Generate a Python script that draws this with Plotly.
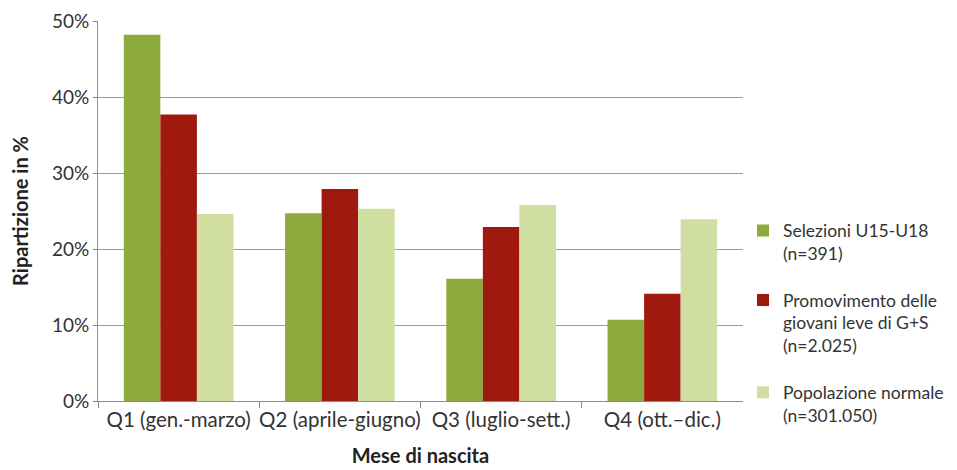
import plotly.graph_objects as go

categories = ["Q1 (gen.-marzo)", "Q2 (aprile-giugno)", "Q3 (luglio-sett.)", "Q4 (ott.\u2013dic.)"]
series_names = [
    "Selezioni U15-U18<br>(n=391)",
    "Promovimento delle<br>giovani leve di G+S<br>(n=2.025)",
    "Popolazione normale<br>(n=301.050)",
]
selezioni = [48.2, 24.7, 16.1, 10.7]
promovimento = [37.7, 27.9, 22.9, 14.1]
popolazione = [24.6, 25.3, 25.8, 23.9]
colors = ["#8DAA3E", "#A0190F", "#D1DEA2"]
y_ticks = [0, 10, 20, 30, 40, 50]

font_family = "Lato, Open Sans, sans-serif"

fig = go.Figure()
for i, (name, vals, col) in enumerate(zip(series_names, [selezioni, promovimento, popolazione], colors)):
    fig.add_trace(go.Bar(x=categories, y=vals, name=name, legendgroup=f"g{i}",
                         marker=dict(color=col, line=dict(width=0))))

fig.update_layout(
    width=949, height=462,
    margin=dict(l=90, r=214, t=13, b=69, autoexpand=False),
    paper_bgcolor="white", plot_bgcolor="white",
    barmode="group", bargap=0.32, bargroupgap=0,
    font=dict(family=font_family, size=17, color="#333333"),
    legend=dict(x=1.0, y=0.496, xanchor="left", yanchor="top",
                font=dict(size=17.5, color="#333333"), tracegroupgap=21,
                valign="top", itemwidth=30),
    showlegend=True,
)
fig.update_xaxes(
    automargin=False, tickangle=0,
    showline=True, linecolor="#8c8c8c", linewidth=1,
    ticks="outside", tickson="boundaries", ticklen=6, tickcolor="#8c8c8c",
    tickfont=dict(size=20.5, color="#333333"),
    title=dict(text="<b>Mese di nascita</b>", font=dict(size=20, color="#222222"), standoff=19),
)
fig.update_yaxes(
    automargin=False,
    range=[0, 50], tickvals=y_ticks, ticktext=[f"{v}%" for v in y_ticks],
    showgrid=True, gridcolor="#9a9a9a", gridwidth=1,
    showline=True, linecolor="#8c8c8c", linewidth=1,
    ticks="outside", ticklen=4, tickcolor="#8c8c8c",
    tickfont=dict(size=19, color="#333333"),
    title=dict(text="<b>Ripartizione in %</b>", font=dict(size=20, color="#222222"), standoff=18),
    zeroline=False,
)

fig.write_html("out.html")
